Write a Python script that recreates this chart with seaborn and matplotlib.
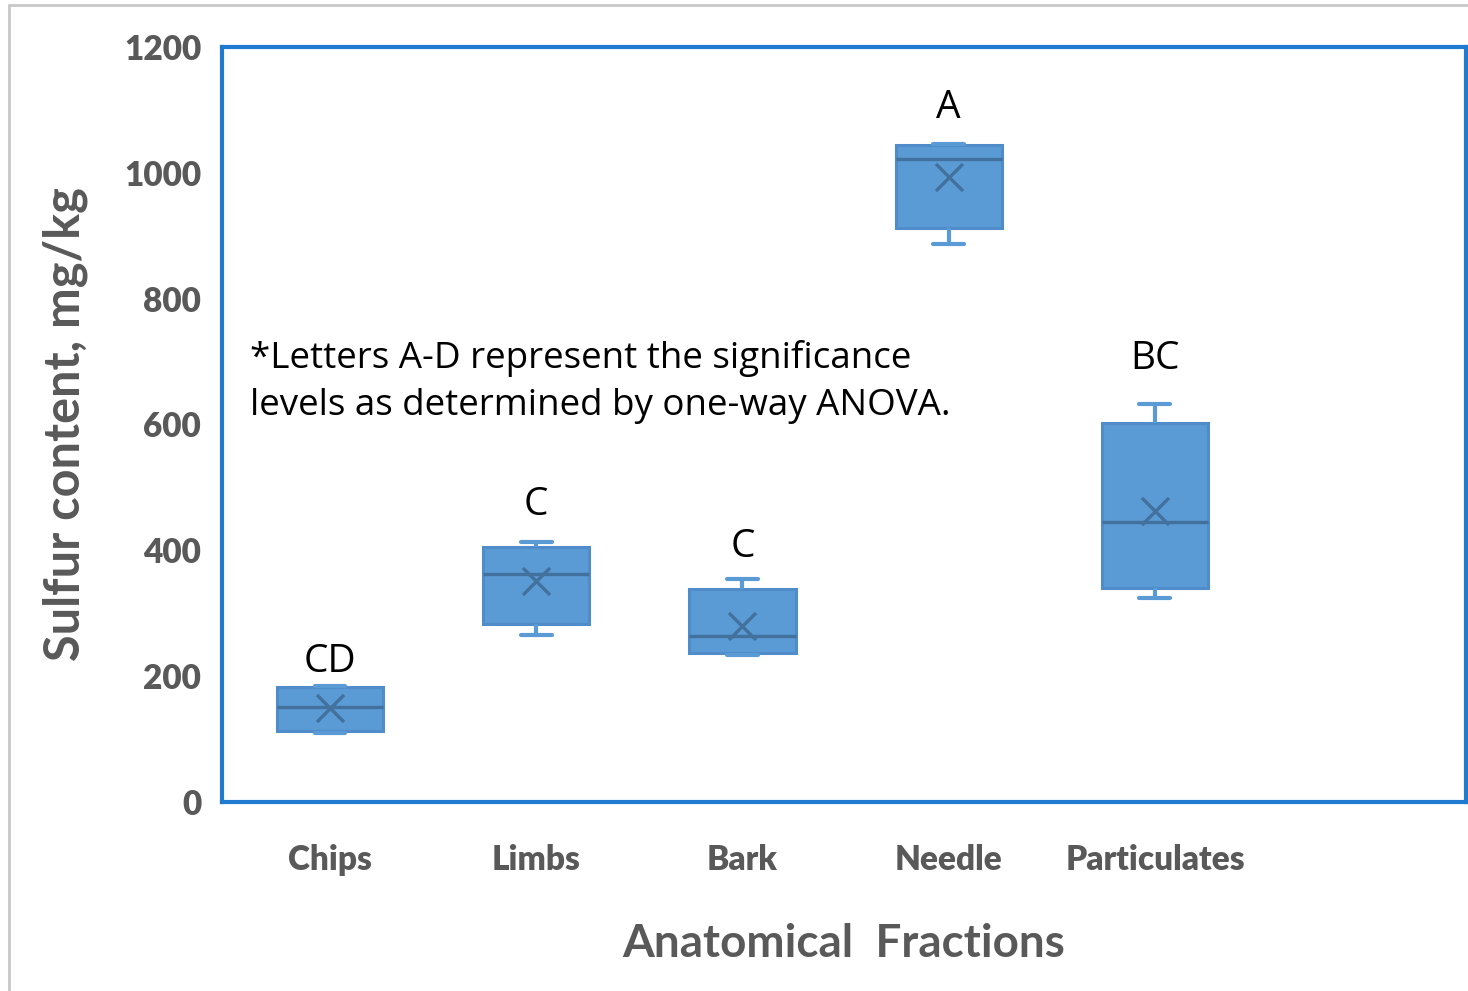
import numpy as np
import pandas as pd
import matplotlib
matplotlib.use("Agg")
import matplotlib.pyplot as plt
from matplotlib.lines import Line2D
import seaborn as sns

# Sulfur content (mg/kg) by anatomical fraction: five-number summaries and means
fractions = ["Chips", "Limbs", "Bark", "Needle", "Particulates"]
mins = [109, 265, 234, 887, 324]
q1s = [113, 283, 237, 913, 340]
medians = [151, 362, 264, 1022, 445]
q3s = [183, 405, 339, 1044, 603]
maxs = [185, 413, 355, 1046, 633]
means = [150, 351, 280, 994, 463]

# Significance letters (one-way ANOVA) and their heights
letters = ["CD", "C", "C", "A", "BC"]
letter_y = [207, 456, 389, 1087, 688]

note = "*Letters A-D represent the significance\nlevels as determined by one-way ANOVA."

rows = []
for f, a, b, c, d, e in zip(fractions, mins, q1s, medians, q3s, maxs):
    for v in (a, b, c, d, e):
        rows.append({"fraction": f, "sulfur": v})
df = pd.DataFrame(rows)

sns.set_theme(style="white")
plt.rcParams["font.family"] = ["Lato", "DejaVu Sans"]

fig = plt.figure(figsize=(14.68, 9.91), dpi=100)
ax = fig.add_axes([0.1512, 0.1907, 0.8474, 0.7619])

fill = "#5B9BD5"
edge = "#4F8CC9"
dark = "#41719C"

sns.boxplot(
    data=df, x="fraction", y="sulfur", order=fractions, ax=ax,
    whis=np.inf, width=0.515, color=fill, linecolor=edge, linewidth=2.2,
    saturation=1,
    medianprops={"color": dark, "linewidth": 2.4},
    whiskerprops={"color": fill, "linewidth": 3},
    capprops={"color": fill, "linewidth": 3},
    capwidths=0.15,
)

mean_df = pd.DataFrame({"fraction": fractions, "mean": means})
sns.scatterplot(data=mean_df, x="fraction", y="mean", ax=ax, marker="x",
                s=380, color=dark, linewidth=2.4, zorder=5, legend=False)

for i, (lab, y) in enumerate(zip(letters, letter_y)):
    ax.text(i, y, lab, ha="center", va="baseline", fontsize=28,
            color="black", family=["Open Sans", "DejaVu Sans"])

# two-line note; baseline given for the lower line
ax.text(-0.39, 615, note, ha="left", va="baseline", fontsize=26.5,
        color="black", linespacing=1.42, family=["Open Sans", "DejaVu Sans"])

ax.set_xlim(-0.524, 5.508)
ax.set_ylim(0, 1200)
ax.set_yticks(np.arange(0, 1201, 200))
ax.tick_params(axis="both", length=0, labelsize=24, labelcolor="#595959")
ax.tick_params(axis="y", pad=15)
ax.tick_params(axis="x", pad=30)
for lbl in ax.get_xticklabels() + ax.get_yticklabels():
    lbl.set_fontweight("heavy")

ax.set_xlabel("Anatomical  Fractions", fontsize=33, fontweight="bold",
              color="#595959", labelpad=34)
ax.set_ylabel("Sulfur content, mg/kg", fontsize=35, fontweight="bold",
              color="#595959", labelpad=26)

for s in ax.spines.values():
    s.set_visible(True)
    s.set_color("#1F7AD0")
    s.set_linewidth(3)

# light frame around the chart area
fig.add_artist(Line2D([9 / 1468, 9 / 1468], [0, 1 - 5 / 991],
                      transform=fig.transFigure, color="#C8C8C8", linewidth=2))
fig.add_artist(Line2D([9 / 1468, 1], [1 - 5 / 991, 1 - 5 / 991],
                      transform=fig.transFigure, color="#C8C8C8", linewidth=2))

fig.savefig("out.png", dpi=100, facecolor="white")
